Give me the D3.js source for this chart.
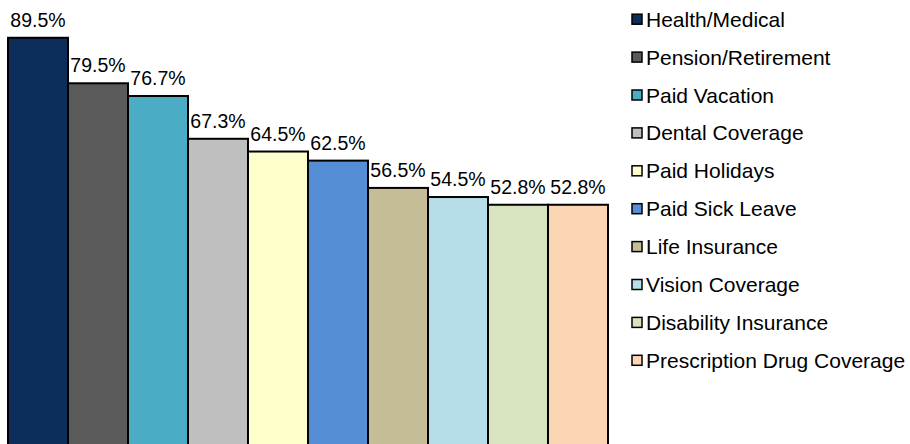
<!DOCTYPE html>
<html>
<head>
<meta charset="utf-8">
<script src="https://cdn.jsdelivr.net/npm/d3@7"></script>
<style>
  body { margin: 0; background: #fff; }
  svg { display: block; font-family: "Liberation Sans", Arial, sans-serif; }
</style>
</head>
<body>
<svg id="chart" width="910" height="444"></svg>
<script>
var categories = ["Health/Medical", "Pension/Retirement", "Paid Vacation", "Dental Coverage",
  "Paid Holidays", "Paid Sick Leave", "Life Insurance", "Vision Coverage",
  "Disability Insurance", "Prescription Drug Coverage"];
var values = [89.5, 79.5, 76.7, 67.3, 64.5, 62.5, 56.5, 54.5, 52.8, 52.8];
var colors = ["#0d2d5a", "#5a5a5a", "#4bacc6", "#bfbfbf", "#ffffcc",
  "#558ed5", "#c4bd97", "#b7dee8", "#d7e4bd", "#fcd5b5"];

var svg = d3.select("#chart");

var x = d3.scaleBand().domain(categories).range([8, 608]).padding(0);
var y = d3.scaleLinear().domain([0, 100]).range([445, -10]);
var color = d3.scaleOrdinal().domain(categories).range(colors);

var data = categories.map(function(c, i) { return {name: c, value: values[i]}; });

svg.append("g").selectAll("rect")
  .data(data)
  .enter().append("rect")
  .attr("x", function(d) { return x(d.name); })
  .attr("y", function(d) { return y(d.value); })
  .attr("width", x.bandwidth())
  .attr("height", function(d) { return y(0) - y(d.value) + 5; })
  .attr("fill", function(d) { return color(d.name); })
  .attr("stroke", "#000")
  .attr("stroke-width", 2);

svg.append("g").selectAll("text")
  .data(data)
  .enter().append("text")
  .attr("x", function(d) { return x(d.name) + x.bandwidth() / 2; })
  .attr("y", function(d) { return y(d.value) - 11; })
  .attr("text-anchor", "middle")
  .attr("font-size", "19.5px")
  .attr("fill", "#000")
  .text(function(d) { return d.value.toFixed(1) + "%"; });

// legend
var legend = svg.append("g").attr("transform", "translate(631,0)");
var row = legend.selectAll("g")
  .data(categories)
  .enter().append("g")
  .attr("transform", function(d, i) { return "translate(0," + (26.7 + i * 37.9) + ")"; });

row.append("rect")
  .attr("x", 1)
  .attr("y", -12.5)
  .attr("width", 10)
  .attr("height", 10)
  .attr("fill", function(d) { return color(d); })
  .attr("stroke", "#000")
  .attr("stroke-width", 1.5);

row.append("text")
  .attr("x", 15)
  .attr("y", 0)
  .attr("font-size", "21px")
  .attr("fill", "#000")
  .text(function(d) { return d; });
</script>
</body>
</html>
